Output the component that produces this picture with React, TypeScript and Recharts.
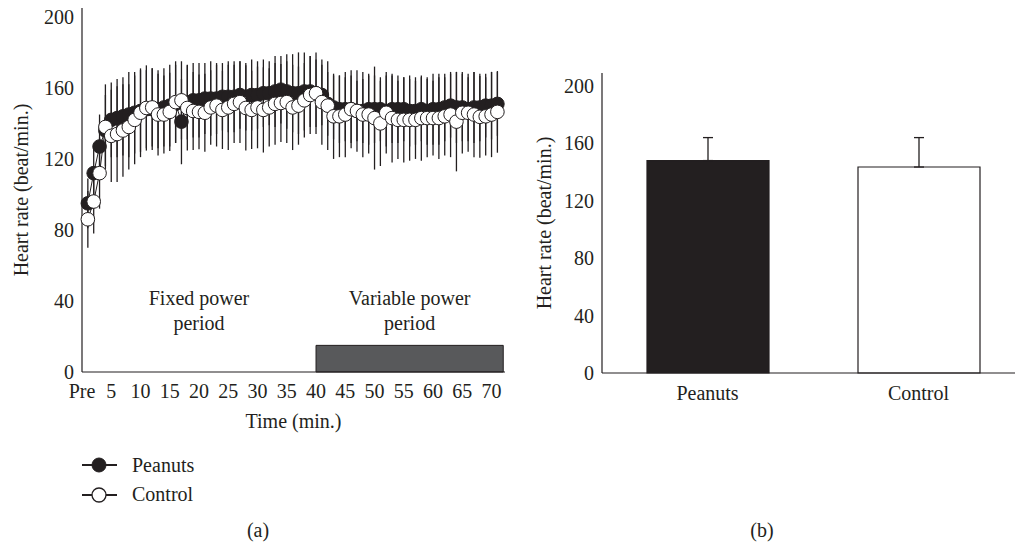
import React from 'react';
import {
  LineChart,
  Line,
  XAxis,
  YAxis,
  ErrorBar,
  ReferenceArea,
  BarChart,
  Bar,
  Cell,
  Legend,
} from 'recharts';

const INK = '#231f20';
const FONT = '"Liberation Serif", "Times New Roman", serif';

// ---- Panel (a): heart rate over time ----
const minutes = [
  1, 2, 3, 4, 5, 6, 7, 8, 9, 10,
  11, 12, 13, 14, 15, 16, 17, 18, 19, 20,
  21, 22, 23, 24, 25, 26, 27, 28, 29, 30,
  31, 32, 33, 34, 35, 36, 37, 38, 39, 40,
  41, 42, 43, 44, 45, 46, 47, 48, 49, 50,
  51, 52, 53, 54, 55, 56, 57, 58, 59, 60,
  61, 62, 63, 64, 65, 66, 67, 68, 69, 70, 71,
];

const peanutsHR = [
  95, 112, 127, 136, 142, 143, 144, 145, 146, 147,
  148, 148, 148, 149, 150, 151, 141, 152, 153, 153,
  154, 154, 154, 155, 155, 155, 156, 155, 156, 156,
  157, 157, 158, 159, 158, 157, 157, 158, 158, 157,
  156, 151, 149, 148, 148, 148, 147, 147, 148, 148,
  148, 147, 148, 148, 148, 147, 147, 148, 147, 148,
  148, 149, 150, 149, 149, 148, 149, 149, 150, 150, 151,
];

const peanutsSD = [
  14, 16, 18, 20, 21, 22, 22, 24, 23, 23,
  22, 23, 22, 22, 23, 22, 24, 21, 21, 21,
  20, 21, 20, 19, 20, 20, 19, 19, 20, 19,
  19, 18, 20, 19, 21, 22, 23, 22, 20, 19,
  17, 18, 18, 19, 18, 19, 17, 18, 20, 19,
  18, 20, 19, 19, 18, 20, 19, 18, 19, 20,
  20, 19, 18, 20, 19, 18, 20, 19, 18, 19, 18,
];

const controlHR = [
  86, 96, 112, 138, 133, 134, 136, 138, 142, 146,
  148.7, 149, 145, 145, 146.5, 152, 153, 148.7, 147, 146.5,
  146, 149, 150, 147.6, 149, 151, 152, 148.7, 147.6, 149,
  147.6, 149, 151, 151.5, 152, 149, 150, 153, 156, 157,
  152, 150, 144, 144, 145, 148, 147, 145, 145, 143,
  140, 146, 143, 142, 142, 142, 142, 143, 143, 143,
  143, 144, 145, 141, 146, 146, 145, 143.7, 144, 145, 146.5,
];

const controlSD = [
  16, 18, 20, 24, 26, 27, 26, 24, 25, 25,
  24, 22, 23, 22, 22, 23, 22, 24, 22, 21,
  22, 21, 23, 22, 24, 22, 23, 24, 22, 23,
  24, 22, 23, 22, 23, 24, 22, 21, 22, 23,
  24, 25, 24, 23, 24, 22, 23, 24, 22, 29,
  24, 23, 25, 22, 24, 23, 22, 24, 22, 21,
  23, 22, 24, 28, 23, 22, 24, 23, 22, 24, 23,
];

const timeTicks = [0, 5, 10, 15, 20, 25, 30, 35, 40, 45, 50, 55, 60, 65, 70];
const hrTicks = [0, 40, 80, 120, 160, 200];
const seriesNames = ['Peanuts', 'Control'];
const fixedPeriod = { start: 0, end: 40, lines: ['Fixed power', 'period'] };
const variablePeriod = { start: 40, end: 72, lines: ['Variable power', 'period'] };
const periodBarHeight = 15;

// ---- Panel (b): mean heart rate ----
const groups = ['Peanuts', 'Control'];
const groupMeans = [148, 143.5];
const groupSDs = [16, 20.5];

const timeData = minutes.map((t, i) => ({
  t,
  peanuts: peanutsHR[i],
  control: controlHR[i],
  peanutsSd: peanutsSD[i],
  controlSd: controlSD[i],
}));

const barData = groups.map((g, i) => ({
  group: g,
  hr: groupMeans[i],
  err: [0, groupSDs[i]],
}));

const textStyle = { fill: INK, fontSize: 20, fontFamily: FONT };

const periodLabel = (lines: string[]) => (props: any) => {
  const vb = props.viewBox || {};
  const cx = vb.x + vb.width / 2;
  const top = vb.y;
  return (
    <text textAnchor="middle" {...textStyle}>
      <tspan x={cx} y={top - 40}>{lines[0]}</tspan>
      <tspan x={cx} y={top - 15}>{lines[1]}</tspan>
    </text>
  );
};

const yLabel = (xBase: number) => (props: any) => {
  const vb = props.viewBox || {};
  const cy = vb.y + vb.height / 2;
  return (
    <text
      x={xBase}
      y={cy}
      textAnchor="middle"
      transform={`rotate(-90, ${xBase}, ${cy})`}
      {...textStyle}
    >
      Heart rate (beat/min.)
    </text>
  );
};

const LegendContent = () => (
  <svg width={200} height={64} style={{ display: 'block' }}>
    <line x1={0} x2={35} y1={15} y2={15} stroke={INK} strokeWidth={2} />
    <circle cx={17} cy={15} r={7} fill={INK} stroke={INK} />
    <text x={50} y={22} {...textStyle}>{seriesNames[0]}</text>
    <line x1={0} x2={35} y1={45} y2={45} stroke={INK} strokeWidth={2} />
    <circle cx={17} cy={45} r={7} fill="#ffffff" stroke={INK} strokeWidth={1.3} />
    <text x={50} y={51} {...textStyle}>{seriesNames[1]}</text>
  </svg>
);

export default function App() {
  return (
    <div
      style={{
        position: 'absolute',
        left: 0,
        top: 0,
        width: 1015,
        height: 544,
        overflow: 'hidden',
        background: '#ffffff',
        fontFamily: FONT,
      }}
    >
      <div style={{ position: 'absolute', left: 0, top: 0 }}>
        <LineChart
          width={520}
          height={544}
          data={timeData}
          margin={{ top: 8, right: 15, bottom: 112, left: 0 }}
        >
          <XAxis
            dataKey="t"
            type="number"
            domain={[0, 72.3]}
            ticks={timeTicks}
            interval={0}
            tickFormatter={(v: number) => (v === 0 ? 'Pre' : String(v))}
            tickLine={false}
            tickMargin={6}
            axisLine={{ stroke: INK, strokeWidth: 1.2 }}
            tick={textStyle}
            height={60}
            label={{ value: 'Time (min.)', position: 'insideBottom', offset: 4, ...textStyle }}
          />
          <YAxis
            type="number"
            domain={[0, 205]}
            ticks={hrTicks}
            interval={0}
            tickLine={false}
            axisLine={{ stroke: INK, strokeWidth: 1.2 }}
            tick={textStyle}
            width={82}
            label={{ content: yLabel(28) }}
          />
          <ReferenceArea
            x1={fixedPeriod.start}
            x2={fixedPeriod.end}
            y1={0}
            y2={periodBarHeight}
            fill="#ffffff"
            fillOpacity={0}
            stroke="none"
            label={{ content: periodLabel(fixedPeriod.lines) }}
          />
          <ReferenceArea
            x1={variablePeriod.start}
            x2={variablePeriod.end}
            y1={0}
            y2={periodBarHeight}
            fill="#58595b"
            fillOpacity={1}
            stroke={INK}
            strokeWidth={1}
            label={{ content: periodLabel(variablePeriod.lines) }}
          />
          <Line
            dataKey="peanuts"
            stroke="none"
            dot={false}
            activeDot={false}
            legendType="none"
            isAnimationActive={false}
          >
            <ErrorBar dataKey="peanutsSd" width={0} stroke={INK} strokeWidth={1.3} direction="y" />
          </Line>
          <Line
            dataKey="control"
            stroke="none"
            dot={false}
            activeDot={false}
            legendType="none"
            isAnimationActive={false}
          >
            <ErrorBar dataKey="controlSd" width={0} stroke={INK} strokeWidth={1.3} direction="y" />
          </Line>
          <Line
            dataKey="peanuts"
            name={seriesNames[0]}
            stroke={INK}
            strokeWidth={1}
            dot={{ r: 6.8, fill: INK, stroke: INK, strokeWidth: 1 }}
            activeDot={false}
            isAnimationActive={false}
          />
          <Line
            dataKey="control"
            name={seriesNames[1]}
            stroke={INK}
            strokeWidth={1}
            dot={{ r: 6.8, fill: '#ffffff', stroke: INK, strokeWidth: 1 }}
            activeDot={false}
            isAnimationActive={false}
          />
          <Legend
            layout="horizontal"
            verticalAlign="middle"
            align="center"
            wrapperStyle={{ position: 'absolute', left: 82, top: 450, width: 200, height: 64 }}
            content={LegendContent}
          />
        </LineChart>
      </div>

      <div style={{ position: 'absolute', left: 520, top: 0 }}>
        <BarChart
          width={504}
          height={544}
          data={barData}
          margin={{ top: 73, right: 0, bottom: 131, left: 0 }}
        >
          <XAxis
            dataKey="group"
            tickLine={false}
            tickMargin={7}
            axisLine={{ stroke: INK, strokeWidth: 1.2 }}
            tick={textStyle}
            height={40}
          />
          <YAxis
            type="number"
            domain={[0, 209]}
            ticks={hrTicks}
            interval={0}
            tickLine={false}
            axisLine={{ stroke: INK, strokeWidth: 1.2 }}
            tick={textStyle}
            width={82}
            label={{ content: yLabel(31) }}
          />
          <Bar dataKey="hr" barSize={122} stroke={INK} strokeWidth={1.2} isAnimationActive={false}>
            {barData.map((d, i) => (
              <Cell key={d.group} fill={i === 0 ? INK : '#ffffff'} />
            ))}
            <ErrorBar dataKey="err" width={5} stroke={INK} strokeWidth={1.3} direction="y" />
          </Bar>
        </BarChart>
      </div>

      <div
        style={{
          position: 'absolute',
          left: 238,
          top: 518,
          width: 40,
          textAlign: 'center',
          fontSize: 20,
          color: INK,
          lineHeight: '24px',
        }}
      >
        (a)
      </div>
      <div
        style={{
          position: 'absolute',
          left: 742,
          top: 518,
          width: 40,
          textAlign: 'center',
          fontSize: 20,
          color: INK,
          lineHeight: '24px',
        }}
      >
        (b)
      </div>
    </div>
  );
}
